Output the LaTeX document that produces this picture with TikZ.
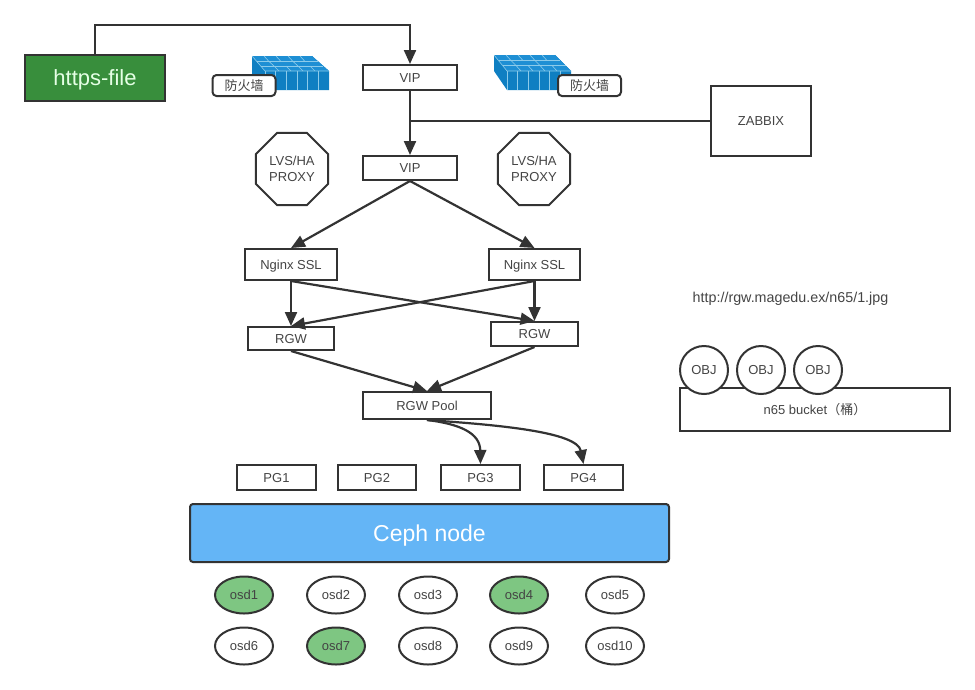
\documentclass[tikz,border=0pt]{standalone}
\usepackage{fontspec}
\setmainfont{Liberation Sans}
\newfontfamily\cjkfont{Noto Sans CJK SC}
\usetikzlibrary{arrows.meta,shapes.geometric}
\definecolor{ink}{HTML}{333333}
\definecolor{txt}{HTML}{444444}
\definecolor{fwblue}{HTML}{0F7FC2}
\definecolor{fwtop}{HTML}{1E8FD4}
\definecolor{fwline}{HTML}{8CCBEA}
\definecolor{httpgreen}{HTML}{388E3C}
\definecolor{osdgreen}{HTML}{7EC682}
\definecolor{cephblue}{HTML}{64B5F6}
\tikzset{
  x=1pt,y=-1pt,
  every node/.style={font=\fontsize{13}{15.5}\selectfont,text=txt,inner sep=0pt},
  lbl/.style={text height=9.5pt,text depth=0pt},
  box/.style={lbl,draw=ink,line width=2pt,fill=white,minimum width=#1,minimum height=25pt},
  box/.default=90pt,
  conn/.style={draw=ink,line width=2.2pt,-{Triangle[length=14pt,width=12pt]}},
  plain/.style={draw=ink,line width=2.2pt},
  octa/.style={draw=ink,line width=2pt,fill=white,regular polygon,regular polygon sides=8,minimum size=78pt,align=center},
  osd/.style={lbl,draw=ink,line width=2pt,fill=white,ellipse,minimum width=58pt,minimum height=37pt},
  osdon/.style={osd,fill=osdgreen},
  objc/.style={lbl,draw=ink,line width=2pt,fill=white,circle,minimum size=48pt},
  fwtag/.style={draw=ink,line width=2pt,fill=white,rounded corners=4pt,minimum width=63pt,minimum height=21pt,font=\fontsize{13}{15}\selectfont\cjkfont},
  fwedge/.style={draw=fwline,line width=0.6pt}
}
\begin{document}
\begin{tikzpicture}
\useasboundingbox (0,0) rectangle (975,689);
% firewall left
\begin{scope}[shift={(252,56)}]
\fill[fwblue] (0,0)--(60,0)--(77,15)--(77,34)--(13,34)--(0,20)--cycle;
\fill[fwtop] (0,0)--(60,0)--(77,15)--(13,15)--cycle;
\draw[fwedge] (0,0)--(13,15)--(77,15);
\draw[fwedge] (13,15)--(13,34);
\foreach \i in {1,...,5} {\draw[fwedge] (13+\i*10.67,15)--(13+\i*10.67,34);}
\foreach \i in {1,2,3,4} {\draw[fwedge] (\i*12,0)--(\i*12+5,5.5); \draw[fwedge] (\i*12+10,10)--(\i*12+15,15);}
\foreach \i in {0,2} {\draw[fwedge] (\i*12+17,5.5)--(\i*12+22,10);}
\draw[fwedge] (5,5.5)--(66,5.5);
\draw[fwedge] (9,10)--(71,10);
\end{scope}
% firewall right
\begin{scope}[shift={(494,55)}]
\fill[fwblue] (0,0)--(61,0)--(77,16)--(77,35)--(13,35)--(0,16)--cycle;
\fill[fwtop] (0,0)--(61,0)--(77,16)--(13,16)--cycle;
\draw[fwedge] (0,0)--(13,16)--(77,16);
\draw[fwedge] (13,16)--(13,35);
\foreach \i in {1,...,5} {\draw[fwedge] (13+\i*10.67,16)--(13+\i*10.67,35);}
\foreach \i in {1,2,3,4} {\draw[fwedge] (\i*12,0)--(\i*12+5,5.5); \draw[fwedge] (\i*12+10,10.5)--(\i*12+15,16);}
\foreach \i in {0,2} {\draw[fwedge] (\i*12+17,5.5)--(\i*12+22,10.5);}
\draw[fwedge] (5,5.5)--(66,5.5);
\draw[fwedge] (9,10.5)--(72,10.5);
\end{scope}
\node[fwtag] (fw1) at (244,85.5) {防火墙};
\node[fwtag] (fw2) at (589.5,85.5) {防火墙};
% nodes
\node[draw=ink,line width=2.4pt,fill=httpgreen,minimum width=140pt,minimum height=46pt,font=\fontsize{22}{26}\selectfont,text=white!90!green,text height=14pt,text depth=0pt] (https) at (95,78) {https-file};
\node[box=94pt] (vip1) at (410,77.5) {VIP};
\node[box=94pt,minimum height=24pt] (vip2) at (410,168) {VIP};
\node[lbl,draw=ink,line width=2pt,fill=white,minimum width=100pt,minimum height=70pt] (zab) at (761,121) {ZABBIX};
\node[octa] (lvs1) at (292,169) {LVS/HA\\PROXY};
\node[octa] (lvs2) at (534,169) {LVS/HA\\PROXY};
\node[box=92pt,minimum height=31pt] (ng1) at (291,264.5) {Nginx SSL};
\node[box=91pt,minimum height=31pt] (ng2) at (534.5,264.5) {Nginx SSL};
\node[box=86pt,minimum height=23pt] (rgw1) at (291,338.5) {RGW};
\node[box=87pt,minimum height=24pt] (rgw2) at (534.5,334) {RGW};
\node[box=128pt,minimum height=27pt] (pool) at (427,405.5) {RGW Pool};
\node[box=79pt] (pg1) at (276.5,477.5) {PG1};
\node[box=78pt] (pg2) at (377,477.5) {PG2};
\node[box=79pt] (pg3) at (480.5,477.5) {PG3};
\node[box=79pt] (pg4) at (583.5,477.5) {PG4};
\node[draw=ink,line width=2pt,fill=cephblue,rounded corners=3pt,minimum width=479pt,minimum height=58pt,font=\fontsize{23}{27}\selectfont,text=white,text height=16pt,text depth=0pt] (ceph) at (429.5,533) {Ceph node};
\node[osdon] (o1) at (244,595) {osd1};
\node[osd] (o2) at (336,595) {osd2};
\node[osd] (o3) at (428,595) {osd3};
\node[osdon] (o4) at (519,595) {osd4};
\node[osd] (o5) at (615,595) {osd5};
\node[osd] (o6) at (244,646) {osd6};
\node[osdon] (o7) at (336,646) {osd7};
\node[osd] (o8) at (428,646) {osd8};
\node[osd] (o9) at (519,646) {osd9};
\node[osd] (o10) at (615,646) {osd10};
\node[lbl,font=\fontsize{14.3}{16}\selectfont] (url) at (790.5,298) {http://rgw.magedu.ex/n65/1.jpg};
\node[lbl,draw=ink,line width=2pt,fill=white,minimum width=270pt,minimum height=43pt] (bucket) at (815,409.5) {n65 bucket{\cjkfont（桶）}};
\node[objc] (ob1) at (704,370) {OBJ};
\node[objc] (ob2) at (761,370) {OBJ};
\node[objc] (ob3) at (818,370) {OBJ};
% connectors
\coordinate (top) at (250,25);
\draw[conn] (https.north) |- (top) -| (vip1.north);
\draw[conn] (vip1.south) -- (vip2.north);
\draw[plain] (zab.west) -- (zab.west -| vip1.south);
\draw[conn] (vip2.south) -- (ng1.north);
\draw[conn] (vip2.south) -- (ng2.north);
\draw[conn] (ng1.south) -- (rgw1.north);
\draw[conn] (ng1.south) -- (rgw2.north);
\draw[conn] (ng2.south) -- (rgw1.north);
\draw[conn] (ng2.south) -- (rgw2.north);
\draw[conn] (rgw1.south) -- (pool.north);
\draw[conn] (rgw2.south) -- (pool.north);
\draw[conn] (pool.south) .. controls (460,424) and (480,433) .. (pg3.north);
\draw[conn] (pool.south) .. controls (500,425) and (577,432) .. (pg4.north);
\end{tikzpicture}
\end{document}
